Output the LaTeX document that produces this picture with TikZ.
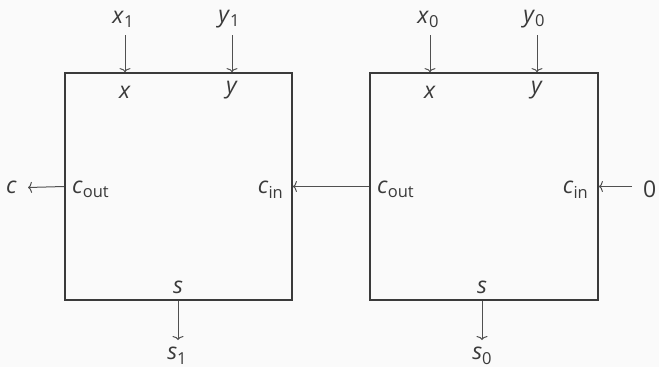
\documentclass[tikz,border=0pt]{standalone}
\usepackage{fontspec}
\setmainfont{Open Sans}
\usetikzlibrary{arrows.meta}
\definecolor{bg}{HTML}{FAFAFA}
\definecolor{txt}{HTML}{3A3A3A}
\definecolor{boxc}{HTML}{3A3A3A}
\definecolor{arrc}{HTML}{505050}
\newcommand\vs[2]{\textit{#1}\raisebox{-4.5pt}{\fontsize{16.5}{16.5}\selectfont #2}}
\begin{document}
\begin{tikzpicture}[x=1pt,y=-1pt,
  font=\fontsize{23}{27}\selectfont, text=txt,
  fa/.style={draw=boxc, line width=1.8pt, minimum width=227pt, minimum height=227pt, inner sep=0pt},
  arr/.style={draw=arrc, line width=1pt, -{To[length=4pt,width=11pt]}},
  lbl/.style={inner sep=0pt}]
\fill[bg] (0,0) rectangle (659,367);
\useasboundingbox (0,0) rectangle (659,367);
% boxes
\node[fa] (fa1) at (178.5,186.5) {};
\node[fa, minimum width=228pt] (fa0) at (484,186.5) {};
% inner labels
\node[lbl, anchor=south] (ix1) at (125,99) {\textit{x}};
\node[lbl, anchor=south] (iy1) at (232,99) {\textit{y}};
\node[lbl, anchor=south] (ix0) at (430,99) {\textit{x}};
\node[lbl, anchor=south] (iy0) at (537,99) {\textit{y}};
\node[lbl, anchor=south] (is1) at (178,294) {\textit{s}};
\node[lbl, anchor=south] (is0) at (482,294) {\textit{s}};
\node[lbl, anchor=west] (co1) at (72,189.5) {\vs{c}{out}};
\node[lbl, anchor=east] (ci1) at (283,189.5) {\vs{c}{in}};
\node[lbl, anchor=west] (co0) at (377,189.5) {\vs{c}{out}};
\node[lbl, anchor=east] (ci0) at (588,189.5) {\vs{c}{in}};
% outer labels
\node[lbl, anchor=south] (x1) at (123,28) {\vs{x}{1}};
\node[lbl, anchor=south] (y1) at (229,28) {\vs{y}{1}};
\node[lbl, anchor=south] (x0) at (428,28) {\vs{x}{0}};
\node[lbl, anchor=south] (y0) at (534,28) {\vs{y}{0}};
\node[lbl, anchor=north] (s1) at (177,347) {\vs{s}{1}};
\node[lbl, anchor=north] (s0) at (482,347) {\vs{s}{0}};
\node[lbl, anchor=east] (c) at (17,187.5) {\textit{c}};
\node[lbl, anchor=west] (zero) at (643,189.5) {0};
% connectors
\draw[arr] ([yshift=-7pt]x1.south -| ix1) -- (ix1 |- fa1.north);
\draw[arr] ([yshift=-7pt]y1.south -| iy1) -- (iy1 |- fa1.north);
\draw[arr] ([yshift=-7pt]x0.south -| ix0) -- (ix0 |- fa0.north);
\draw[arr] ([yshift=-7pt]y0.south -| iy0) -- (iy0 |- fa0.north);
\draw[arr] (is1 |- fa1.south) -- ([yshift=7pt]s1.north -| is1);
\draw[arr] (is0 |- fa0.south) -- ([yshift=7pt]s0.north -| is0);
\draw[arr] (fa1.west) -- ([xshift=11pt]c.east);
\draw[arr] (fa0.west) -- (fa1.east);
\draw[arr] ([xshift=-11pt]zero.west |- fa0.east) -- (fa0.east);
\end{tikzpicture}
\end{document}
